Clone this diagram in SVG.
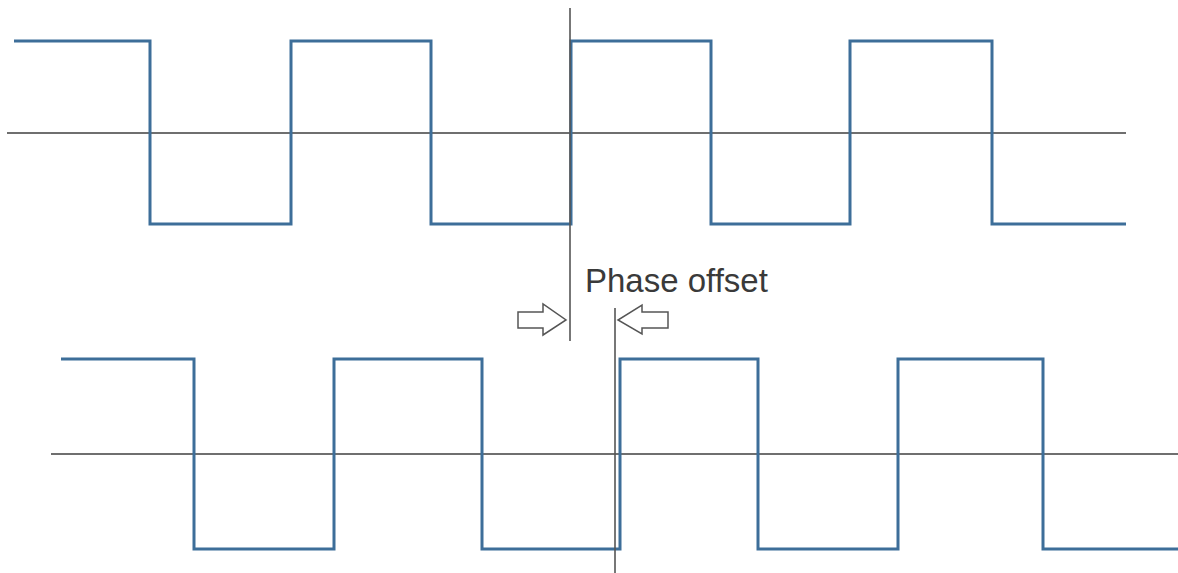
<svg xmlns="http://www.w3.org/2000/svg" width="1178" height="573" viewBox="0 0 1178 573">
<style>
.axis{stroke:#3f3f3f;stroke-width:1.7;fill:none}
.wave{stroke:#3d6e99;stroke-width:3;fill:none;stroke-linejoin:miter}
.marker{stroke:#555;stroke-width:1.6;fill:none}
.arrow{fill:#fff;stroke:#555;stroke-width:1.5;stroke-linejoin:miter}
.label{font-family:"Liberation Sans",Arial,sans-serif;font-size:33px;fill:#3a3a3a}
</style>
<rect width="1178" height="573" fill="#fff"/>
<g id="top-signal">
<line class="axis" x1="7" y1="133" x2="1126" y2="133"/>
<path class="wave" d="M14,41 H150 V224 H291 V41 H431 V224 H571 V41 H711 V224 H850 V41 H992 V224 H1126"/>
</g>
<g id="bottom-signal">
<line class="axis" x1="51" y1="454" x2="1178" y2="454"/>
<path class="wave" d="M61,359 H194 V549 H334 V359 H482 V549 H620 V359 H758 V549 H898 V359 H1043 V549 H1178"/>
</g>
<g id="connectors">
<line class="marker" x1="570" y1="8" x2="570" y2="341"/>
<line class="marker" x1="615" y1="308" x2="615" y2="573"/>
</g>
<g id="arrow-right">
<path class="arrow" d="M518,312 H543 V304 L566,320 L543,335 V328 H518 Z"/>
</g>
<g id="arrow-left">
<path class="arrow" d="M668,312 H642 V305 L618,320 L642,334 V328 H668 Z"/>
</g>
<g id="label">
<text class="label" x="585" y="292">Phase offset</text>
</g>
</svg>
